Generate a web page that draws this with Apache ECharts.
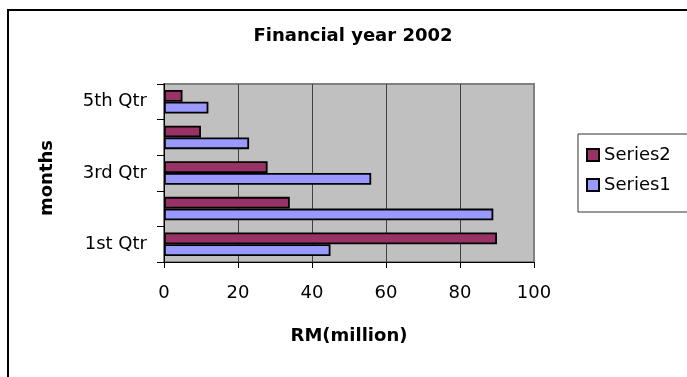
<!DOCTYPE html>
<html>
<head>
<meta charset="utf-8">
<script src="https://cdn.jsdelivr.net/npm/echarts@6/dist/echarts.min.js"></script>
<style>
html,body{margin:0;padding:0;background:#fff;}
#chart{width:687px;height:377px;}
</style>
</head>
<body>
<div id="chart"></div>
<script>
const categories = ['1st Qtr', '2nd Qtr', '3rd Qtr', '4th Qtr', '5th Qtr'];
const series1 = [45, 89, 56, 23, 12];
const series2 = [90, 34, 28, 10, 5];
const xTicks = { min: 0, max: 100, interval: 20 };
const titleText = 'Financial year 2002';
const xName = 'RM(million)';
const yName = 'months';

const FONT = 'DejaVu Sans';
const chart = echarts.init(document.getElementById('chart'));
chart.setOption({
  animation: false,
  backgroundColor: '#ffffff',
  title: {
    text: titleText,
    left: 353,
    top: 27,
    textAlign: 'center',
    padding: 0,
    textStyle: { fontFamily: FONT, fontSize: 18, fontWeight: 'bold', color: '#000' }
  },
  legend: {
    orient: 'vertical',
    left: 578,
    top: 134,
    data: ['Series2', 'Series1'],
    icon: 'rect',
    itemWidth: 12,
    itemHeight: 12,
    itemGap: 12,
    padding: [12, 40, 18, 8],
    borderColor: '#333',
    borderWidth: 1,
    backgroundColor: '#fff',
    textStyle: { fontFamily: FONT, fontSize: 18, color: '#000' }
  },
  grid: {
    left: 164, right: 153, top: 84, bottom: 115,
    show: true,
    backgroundColor: '#C0C0C0',
    borderColor: '#808080',
    borderWidth: 2
  },
  xAxis: {
    type: 'value',
    min: xTicks.min, max: xTicks.max, interval: xTicks.interval,
    name: xName,
    nameLocation: 'middle',
    nameGap: 65,
    nameTextStyle: { fontFamily: FONT, fontSize: 18, fontWeight: 'bold', color: '#000' },
    axisLine: { show: true, lineStyle: { color: '#000', width: 1 } },
    axisTick: { show: true, length: 6, lineStyle: { color: '#000' } },
    axisLabel: { margin: 22, fontFamily: FONT, fontSize: 18, color: '#000' },
    splitLine: { show: true, lineStyle: { color: ['#000', '#404040', '#404040', '#404040', '#404040', '#808080'], width: 1 } }
  },
  yAxis: {
    type: 'category',
    data: categories,
    name: yName,
    nameLocation: 'middle',
    nameGap: 108,
    nameTextStyle: { fontFamily: FONT, fontSize: 18, fontWeight: 'bold', color: '#000', padding: [0, 10, 0, 0] },
    axisLine: { show: true, lineStyle: { color: '#000', width: 1 } },
    axisTick: { show: true, interval: 0, length: 7, lineStyle: { color: '#000' } },
    axisLabel: { interval: 1, margin: 17, fontFamily: FONT, fontSize: 18, color: '#000' },
    splitLine: { show: false }
  },
  series: [
    {
      name: 'Series2', type: 'bar', data: series2,
      barGap: '0%', barCategoryGap: '34%',
      itemStyle: { color: '#993366', borderColor: '#000', borderWidth: 1.8 }
    },
    {
      name: 'Series1', type: 'bar', data: series1,
      barGap: '0%', barCategoryGap: '34%',
      itemStyle: { color: '#9999FF', borderColor: '#000', borderWidth: 1.8 }
    }
  ],
  graphic: [
    {
      type: 'rect', silent: true, z: 100,
      shape: { x: 8, y: 10, width: 720, height: 420 },
      style: { fill: 'none', stroke: '#000', lineWidth: 2 }
    }
  ]
});
</script>
</body>
</html>
